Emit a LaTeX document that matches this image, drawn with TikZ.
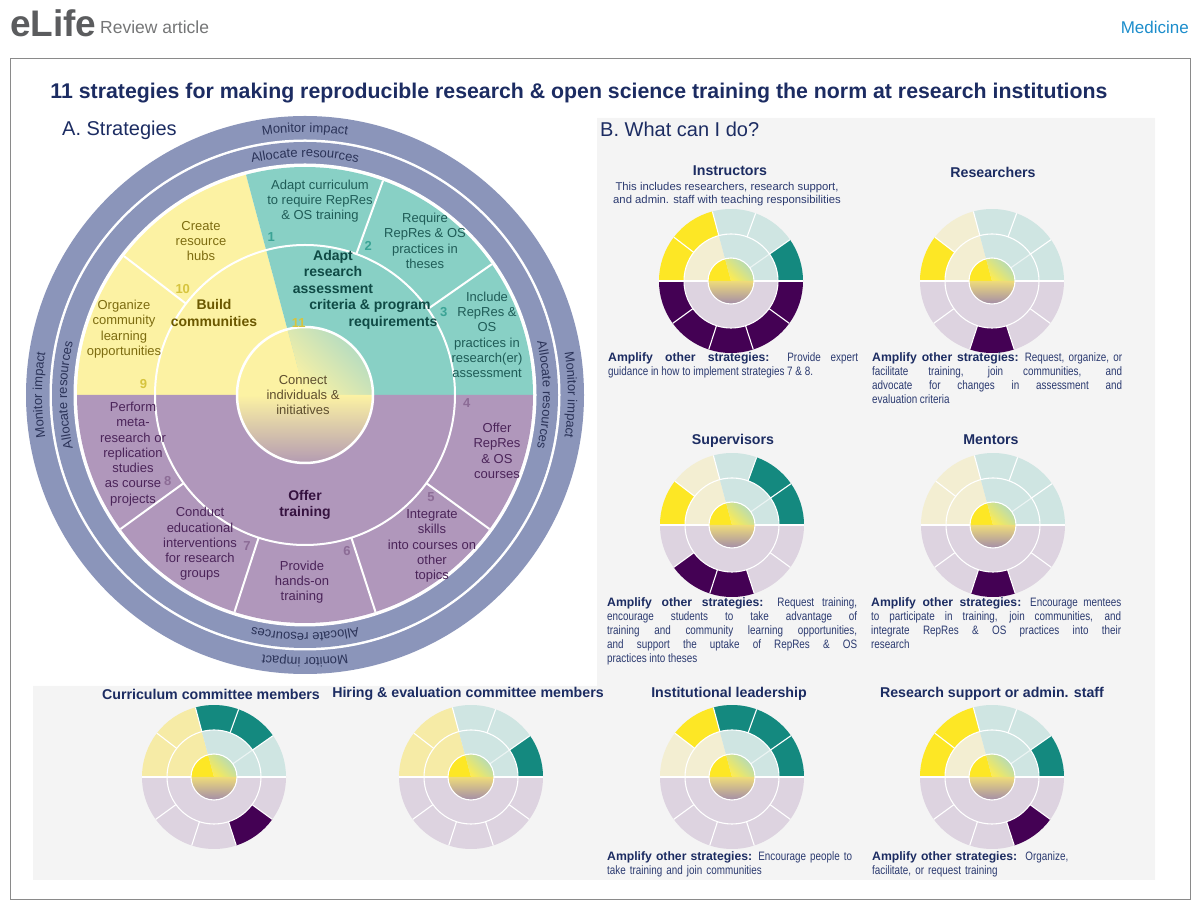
\documentclass[tikz,border=0pt]{standalone}
\usepackage{fontspec}
\setmainfont{Liberation Sans}
\newfontfamily\ampfamily{Liberation Sans}[FakeStretch=0.81]
\usetikzlibrary{decorations.text}

\definecolor{ringblue}{HTML}{8B95BA}
\definecolor{ringtext}{HTML}{2B3358}
\definecolor{myellow}{HTML}{FCF2A3}
\definecolor{mteal}{HTML}{88D0C5}
\definecolor{mpurple}{HTML}{B097BB}
\definecolor{ytext}{HTML}{7D6C10}
\definecolor{ybold}{HTML}{6B5800}
\definecolor{ttext}{HTML}{1F5C57}
\definecolor{tbold}{HTML}{0F4A45}
\definecolor{ptext}{HTML}{4B2459}
\definecolor{pbold}{HTML}{35123F}
\definecolor{ynum}{HTML}{D6C43E}
\definecolor{tnum}{HTML}{3AA395}
\definecolor{pnum}{HTML}{8C6C96}
\definecolor{ctext}{HTML}{5E4E2E}
\definecolor{navy}{HTML}{1C2C62}
\definecolor{bodytext}{HTML}{2B3A70}
\definecolor{panelgray}{HTML}{F4F4F4}
\definecolor{framegray}{HTML}{8A8A8A}
\definecolor{logogray}{HTML}{5B5C5E}
\definecolor{medblue}{HTML}{1C8DCB}
\definecolor{vyellow}{HTML}{FDE725}
\definecolor{vteal}{HTML}{14897F}
\definecolor{vpurple}{HTML}{440154}
\definecolor{lyellow}{HTML}{F3EED2}
\definecolor{lyellowb}{HTML}{F6EBA6}
\definecolor{lteal}{HTML}{CFE5E2}
\definecolor{lpurple}{HTML}{DDD3E0}
\definecolor{cteal}{HTML}{A9D8C6}
\definecolor{cmauve}{HTML}{B49BB2}
\definecolor{innertop}{HTML}{EEDB7A}
\definecolor{smauve}{HTML}{A38DA8}

\newcommand{\segfont}{\fontsize{13}{15.3}\selectfont}
\newcommand{\boldseg}{\fontsize{14}{16.7}\selectfont\bfseries}
\newcommand{\ringfont}{\fontsize{13}{15}\selectfont}
\newcommand{\numfont}{\fontsize{13}{15}\selectfont\bfseries}
\newcommand{\rolefont}{\fontsize{14.2}{17}\selectfont\bfseries}
\newcommand{\notefont}{\fontsize{11.3}{13.5}\selectfont}
\newcommand{\ampfont}{\fontsize{12.2}{14}\selectfont\ampfamily}
\newcommand{\amplead}{{\normalfont\fontsize{12.2}{14}\selectfont\bfseries\color{navy}Amplify other strategies:}}

% start and end angle of the outer segment of each strategy
\def\segfrom{{0,70,35,0,-36,-72,-108,-144,-180,142.5,105}}
\def\segto{{0,105,70,35,0,-36,-72,-108,-144,180,142.5}}

\tikzset{
  whiteline/.style={white, line width=2pt},
  thinline/.style={white, line width=1.1pt},
  segtext/.style={align=center, font=\segfont, inner sep=0pt},
  headtext/.style={align=center, font=\boldseg, inner sep=0pt},
  stratnum/.style={font=\numfont, inner sep=0pt},
  roletitle/.style={font=\rolefont, text=navy, inner sep=0pt},
  amptext/.style={font=\ampfont, text=bodytext, text width=250pt, inner sep=0pt, anchor=north west},
  ringlabel/.style={decorate, decoration={text along path, text align=center,
      text={|\ringfont\color{ringtext}|#1}}}
}

% #1 light yellow, #2 centre, #3 highlighted segments as number/colour
\newcommand{\rolewheel}[3][lyellow]{%
  \begin{scope}[shift={#2}]
    \fill[#1] (0,0) -- (105:72) arc[start angle=105, end angle=180, radius=72] -- cycle;
    \fill[lteal] (0,0) -- (0:72) arc[start angle=0, end angle=105, radius=72] -- cycle;
    \fill[lpurple] (0,0) -- (180:72) arc[start angle=180, end angle=360, radius=72] -- cycle;
    \foreach \n/\col in {#3}{
      \pgfmathsetmacro{\segA}{\segfrom[\n]}
      \pgfmathsetmacro{\segB}{\segto[\n]}
      \fill[\col] (\segA:47) -- (\segA:72) arc[start angle=\segA, end angle=\segB, radius=72]
        -- (\segB:47) arc[start angle=\segB, end angle=\segA, radius=47] -- cycle;
    }
    \fill[vyellow] (0,0) -- (105:23) arc[start angle=105, end angle=180, radius=23] -- cycle;
    \shade[top color=cteal, bottom color=vyellow!80!white, shading angle=-45]
      (0,0) -- (0:23) arc[start angle=0, end angle=105, radius=23] -- cycle;
    \shade[top color=innertop, bottom color=smauve]
      (0,0) -- (180:23) arc[start angle=180, end angle=360, radius=23] -- cycle;
    \draw[thinline] (0,0) circle (47) (0,0) circle (23);
    \foreach \ang in {35,70,105,142.5,216,252,288,324} \draw[thinline] (\ang:47) -- (\ang:72);
    \draw[thinline] (-72,0) -- (-23,0) (23,0) -- (72,0);
    \draw[thinline, opacity=0.6] (35:23) -- (35:47);
  \end{scope}}

\begin{document}
\begin{tikzpicture}[x=1pt,y=1pt]
\useasboundingbox (0,0) rectangle (1200,908);

\node[anchor=base west, inner sep=0pt, font=\fontsize{37}{40}\selectfont\bfseries, text=logogray] (logo) at (10,871) {eLife};
\node[anchor=base west, inner sep=0pt, font=\fontsize{17.5}{20}\selectfont, text=logogray!85] (kind) at (100,874) {Review article};
\node[anchor=base east, inner sep=0pt, font=\fontsize{17}{20}\selectfont, text=medblue] (subject) at (1189,874) {Medicine};

\draw[framegray, line width=1pt] (10,849) rectangle (1190,8);
\fill[panelgray] (597,790) -- (1155,790) -- (1155,28) -- (33,28) -- (33,222) -- (597,222) -- cycle;

\node[font=\fontsize{21.3}{24}\selectfont\bfseries, text=navy, inner sep=0pt] (title) at (579,815)
  {11 strategies for making reproducible research \& open science training the norm at research institutions};
\node[anchor=west, inner sep=0pt, font=\fontsize{20}{24}\selectfont, text=navy] (parta) at (62,778) {A. Strategies};
\node[anchor=west, inner sep=0pt, font=\fontsize{20}{24}\selectfont, text=navy] (partb) at (600,779) {B. What can I do?};

% strategy wheel
\begin{scope}[shift={(305,513)}]
  \fill[ringblue] (0,0) circle (279);
  \fill[white] (0,0) circle (255.5);
  \fill[ringblue] (0,0) circle (253);
  \fill[white] (0,0) circle (231.5);
  \fill[myellow] (0,0) -- (105:228) arc[start angle=105, end angle=180, radius=228] -- cycle;
  \fill[mteal] (0,0) -- (0:228) arc[start angle=0, end angle=105, radius=228] -- cycle;
  \fill[mpurple] (0,0) -- (180:228) arc[start angle=180, end angle=360, radius=228] -- cycle;
  \fill[myellow] (0,0) -- (105:68) arc[start angle=105, end angle=180, radius=68] -- cycle;
  \shade[top color=cteal, bottom color=myellow, shading angle=-45]
    (0,0) -- (0:68) arc[start angle=0, end angle=105, radius=68] -- cycle;
  \shade[top color=myellow, bottom color=cmauve]
    (0,0) -- (180:68) arc[start angle=180, end angle=360, radius=68] -- cycle;
  \draw[whiteline] (0,0) circle (150);
  \draw[whiteline, line width=2.5pt] (0,0) circle (68);
  \foreach \ang in {35,70,142.5,216,252,288,324} \draw[whiteline] (\ang:150) -- (\ang:228);
  \foreach \ang in {90,0,270,180}{
    \path[ringlabel=Monitor impact] ({\ang+22}:263) arc[start angle=\ang+22, end angle=\ang-22, radius=263];
    \path[ringlabel=Allocate resources] ({\ang+28}:238) arc[start angle=\ang+28, end angle=\ang-28, radius=238];
  }
  \foreach \n/\ang/\col in {1/102/tnum, 2/67/tnum, 3/31/tnum, 4/-3/pnum, 5/-39/pnum, 6/-75/pnum,
      7/-111/pnum, 8/-148/pnum, 9/176/ynum, 10/139/ynum}
    \node[stratnum, text=\col] (num\n) at (\ang:162) {\n};
  \node[stratnum, text=ynum] (num11) at (95:72) {11};
\end{scope}

\node[segtext, text=ttext] (adaptcurr) at (320,707) {Adapt curriculum\\to require RepRes\\\& OS training};
\node[segtext, text=ttext] (requireth) at (425,667) {Require\\RepRes \& OS\\practices in\\theses};
\node[segtext, text=ttext] (includeas) at (487,573) {Include\\RepRes \&\\OS\\practices in\\research(er)\\assessment};
\node[segtext, text=ytext] (createhub) at (201,667) {Create\\resource\\hubs};
\node[segtext, text=ytext] (organize) at (124,579) {Organize\\community\\learning\\opportunities};
\node[segtext, text=ptext] (perform) at (133,454) {Perform\\meta-\\research or\\replication\\studies\\as course\\projects};
\node[segtext, text=ptext] (conduct) at (200,364) {Conduct\\educational\\interventions\\for research\\groups};
\node[segtext, text=ptext] (provide) at (302,326) {Provide\\hands-on\\training};
\node[segtext, text=ptext] (integrate) at (432,362) {Integrate\\skills\\into courses on\\other\\topics};
\node[segtext, text=ptext] (offercrs) at (497,457) {Offer\\RepRes\\\& OS\\courses};
\node[segtext, text=ctext] (connect) at (303,513) {Connect\\individuals \&\\initiatives};
\node[headtext, text=tbold] (adaptres) at (333,636) {Adapt\\research\\assessment};
\node[headtext, text=tbold] (criteria) at (370,602) {criteria \& program};
\node[headtext, text=tbold] (require) at (393,585) {requirements};
\node[headtext, text=ybold] (build) at (214,595) {Build\\communities};
\node[headtext, text=pbold] (offertr) at (305,403) {Offer\\training};

% what can I do
\node[roletitle] (tinstr) at (730,737) {Instructors};
\node[font=\notefont, text=bodytext, align=center, inner sep=0pt] (sinstr) at (727,714)
  {This includes researchers, research support,\\and admin. staff with teaching responsibilities};
\node[roletitle] (tres) at (993,736) {Researchers};
\node[roletitle] (tsup) at (733,467) {Supervisors};
\node[roletitle] (tment) at (991,468) {Mentors};
\node[roletitle] (tcurr) at (211,214) {Curriculum committee members};
\node[roletitle] (thire) at (468,214) {Hiring \& evaluation committee members};
\node[roletitle] (tlead) at (729,214) {Institutional leadership};
\node[roletitle] (tstaff) at (992,214) {Research support or admin. staff};

\coordinate (winstr) at (731,627);
\coordinate (wres) at (992,627);
\coordinate (wsup) at (732,383);
\coordinate (wment) at (993,383);
\coordinate (wcurr) at (214,131);
\coordinate (whire) at (471,131);
\coordinate (wlead) at (732,131);
\coordinate (wstaff) at (992,131);

\rolewheel{(winstr)}{10/vyellow, 9/vyellow, 3/vteal, 4/vpurple, 5/vpurple, 6/vpurple, 7/vpurple, 8/vpurple}
\rolewheel{(wres)}{9/vyellow, 6/vpurple}
\rolewheel{(wsup)}{9/vyellow, 2/vteal, 3/vteal, 6/vpurple, 7/vpurple}
\rolewheel{(wment)}{6/vpurple}
\rolewheel[lyellowb]{(wcurr)}{1/vteal, 2/vteal, 5/vpurple}
\rolewheel[lyellowb]{(whire)}{3/vteal}
\rolewheel{(wlead)}{10/vyellow, 1/vteal, 2/vteal, 3/vteal}
\rolewheel{(wstaff)}{10/vyellow, 9/vyellow, 3/vteal, 5/vpurple}

\node[amptext, align=justify] (ainstr) at (608,556)
  {\amplead{} Provide expert\linebreak guidance in how to implement strategies 7 \& 8.};
\node[amptext, align=justify] (ares) at (872,556)
  {\amplead{} Request, organize, or\linebreak facilitate training, join communities, and\linebreak
   advocate for changes in assessment and\linebreak evaluation criteria};
\node[amptext, align=justify] (asup) at (607,311)
  {\amplead{} Request training,\linebreak encourage students to take advantage of\linebreak
   training and community learning opportunities,\linebreak and support the uptake of RepRes \& OS\linebreak practices into theses};
\node[amptext, align=justify] (ament) at (871,311)
  {\amplead{} Encourage mentees\linebreak to participate in training, join communities, and\linebreak
   integrate RepRes \& OS practices into their\linebreak research};
\node[amptext, align=left] (alead) at (607,57)
  {\amplead{} Encourage people to\\take training and join communities};
\node[amptext, align=left] (astaff) at (872,57)
  {\amplead{}\ \ Organize,\\facilitate, or request training};
\end{tikzpicture}
\end{document}
